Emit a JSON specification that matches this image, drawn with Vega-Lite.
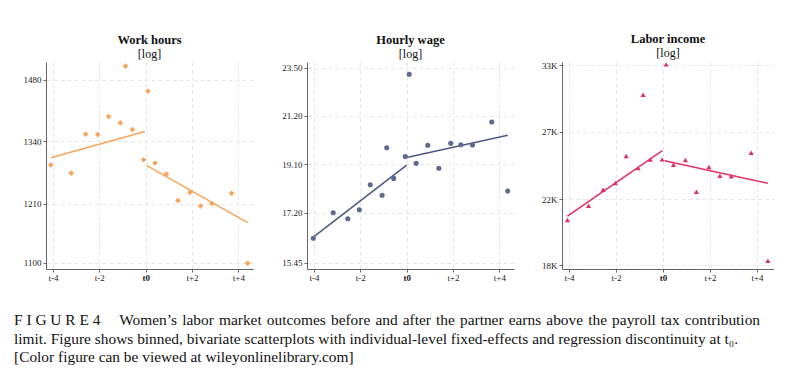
{
  "$schema": "https://vega.github.io/schema/vega-lite/v6.json",
  "background": "white",
  "padding": {"top": 32, "left": 0, "right": 0, "bottom": 0},
  "config": {
    "view": {"stroke": null},
    "font": "Liberation Serif",
    "concat": {"spacing": 10},
    "axis": {
      "domainColor": "#666",
      "tickColor": "#666",
      "tickSize": 3,
      "labelColor": "#222",
      "labelFont": "Liberation Serif",
      "labelFontSize": 9,
      "labelPadding": 2,
      "gridColor": "#e6e6e6",
      "gridDash": [4, 3],
      "title": null
    },
    "axisX": {"labelPadding": 1},
    "title": {
      "font": "Liberation Serif",
      "fontSize": 12.5,
      "fontWeight": "bold",
      "color": "#111",
      "subtitleFont": "Liberation Serif",
      "subtitleFontSize": 12,
      "subtitleColor": "#111",
      "subtitlePadding": 3,
      "offset": 2,
      "anchor": "middle"
    }
  },
  "datasets": {
    "pts": [
      {"panel": "hours", "x": -4.09, "y": 1289},
      {"panel": "hours", "x": -3.21, "y": 1272},
      {"panel": "hours", "x": -2.59, "y": 1355},
      {"panel": "hours", "x": -2.07, "y": 1354},
      {"panel": "hours", "x": -1.6, "y": 1394},
      {"panel": "hours", "x": -1.09, "y": 1380},
      {"panel": "hours", "x": -0.87, "y": 1513},
      {"panel": "hours", "x": -0.57, "y": 1365},
      {"panel": "hours", "x": -0.09, "y": 1300},
      {"panel": "hours", "x": 0.1, "y": 1453},
      {"panel": "hours", "x": 0.4, "y": 1293},
      {"panel": "hours", "x": 0.89, "y": 1270},
      {"panel": "hours", "x": 1.39, "y": 1217},
      {"panel": "hours", "x": 1.91, "y": 1233},
      {"panel": "hours", "x": 2.37, "y": 1206},
      {"panel": "hours", "x": 2.86, "y": 1211},
      {"panel": "hours", "x": 3.71, "y": 1231},
      {"panel": "hours", "x": 4.4, "y": 1099},
      {"panel": "wage", "x": -4.03, "y": 16.28},
      {"panel": "wage", "x": -3.17, "y": 17.2},
      {"panel": "wage", "x": -2.54, "y": 16.98},
      {"panel": "wage", "x": -2.04, "y": 17.31},
      {"panel": "wage", "x": -1.57, "y": 18.27},
      {"panel": "wage", "x": -1.06, "y": 17.86},
      {"panel": "wage", "x": -0.86, "y": 19.78},
      {"panel": "wage", "x": -0.56, "y": 18.52},
      {"panel": "wage", "x": -0.06, "y": 19.41},
      {"panel": "wage", "x": 0.11, "y": 23.17},
      {"panel": "wage", "x": 0.41, "y": 19.13},
      {"panel": "wage", "x": 0.91, "y": 19.89},
      {"panel": "wage", "x": 1.39, "y": 18.93},
      {"panel": "wage", "x": 1.9, "y": 19.97},
      {"panel": "wage", "x": 2.34, "y": 19.91},
      {"panel": "wage", "x": 2.84, "y": 19.9},
      {"panel": "wage", "x": 3.67, "y": 20.91},
      {"panel": "wage", "x": 4.36, "y": 18.02},
      {"panel": "income", "x": -4.07, "y": 20640},
      {"panel": "income", "x": -3.17, "y": 21550},
      {"panel": "income", "x": -2.55, "y": 22630},
      {"panel": "income", "x": -2.03, "y": 23090},
      {"panel": "income", "x": -1.57, "y": 25060},
      {"panel": "income", "x": -1.06, "y": 24160},
      {"panel": "income", "x": -0.85, "y": 30190},
      {"panel": "income", "x": -0.54, "y": 24790},
      {"panel": "income", "x": -0.04, "y": 24810},
      {"panel": "income", "x": 0.13, "y": 33100},
      {"panel": "income", "x": 0.44, "y": 24410},
      {"panel": "income", "x": 0.95, "y": 24760},
      {"panel": "income", "x": 1.42, "y": 22490},
      {"panel": "income", "x": 1.95, "y": 24240},
      {"panel": "income", "x": 2.42, "y": 23610},
      {"panel": "income", "x": 2.9, "y": 23570},
      {"panel": "income", "x": 3.75, "y": 25320},
      {"panel": "income", "x": 4.46, "y": 18240}
    ],
    "fit": [
      {"panel": "hours", "side": "before", "x": -4.09, "y": 1304},
      {"panel": "hours", "side": "before", "x": -0.03, "y": 1361},
      {"panel": "hours", "side": "after", "x": 0.03, "y": 1288},
      {"panel": "hours", "side": "after", "x": 4.4, "y": 1174},
      {"panel": "wage", "side": "before", "x": -4.03, "y": 16.32},
      {"panel": "wage", "side": "before", "x": 0, "y": 19.06},
      {"panel": "wage", "side": "after", "x": 0, "y": 19.37},
      {"panel": "wage", "side": "after", "x": 4.36, "y": 20.32},
      {"panel": "income", "side": "before", "x": -4.07, "y": 20890},
      {"panel": "income", "side": "before", "x": -0.03, "y": 25470},
      {"panel": "income", "side": "after", "x": 0.07, "y": 24710},
      {"panel": "income", "side": "after", "x": 4.46, "y": 23070}
    ]
  },
  "title": {
    "text": [
      "F I G U R E 4\u2003 Women’s\u2004labor\u2004market\u2004outcomes\u2004before\u2004and\u2004after\u2004the\u2004partner\u2004earns\u2004above\u2004the\u2004payroll\u2004tax\u2004contribution",
      "limit. Figure shows binned, bivariate scatterplots with individual-level fixed-effects and regression discontinuity at t₀.",
      "[Color figure can be viewed at wileyonlinelibrary.com]"
    ],
    "orient": "bottom",
    "anchor": "start",
    "frame": "bounds",
    "dx": 14,
    "offset": 31,
    "font": "Liberation Serif",
    "fontSize": 15.4,
    "fontWeight": "normal",
    "lineHeight": 18.5,
    "color": "#111"
  },
  "hconcat": [
    {
      "width": 207,
      "height": 207,
      "title": {"text": "Work hours", "subtitle": "[log]"},
      "layer": [
        {
          "data": {"values": [{"t": 0}]},
          "mark": {"type": "rule", "color": "#888", "strokeDash": [5, 4], "strokeWidth": 1.2},
          "encoding": {"x": {"field": "t", "type": "quantitative"}}
        },
        {
          "data": {"name": "fit"},
          "transform": [{"filter": "datum.panel == 'hours'"}],
          "mark": {"type": "line", "color": "#F7A45C", "strokeWidth": 1.5},
          "encoding": {
            "x": {"field": "x", "type": "quantitative"},
            "y": {"field": "y", "type": "quantitative"},
            "detail": {"field": "side"}
          }
        },
        {
          "data": {"name": "pts"},
          "transform": [{"filter": "datum.panel == 'hours'"}],
          "mark": {"type": "point", "shape": "diamond", "filled": true, "size": 32, "color": "#F7A45C", "opacity": 1},
          "encoding": {
            "x": {"field": "x", "type": "quantitative"},
            "y": {"field": "y", "type": "quantitative"}
          }
        }
      ],
      "encoding": {
        "x": {
          "field": "x", "type": "quantitative",
          "scale": {"domain": [-4.3, 4.63], "nice": false, "zero": false},
          "axis": {
            "values": [-4, -2, 0, 2, 4],
            "labelExpr": "datum.value == 0 ? 't0' : (datum.value > 0 ? 't+' + datum.value : 't' + datum.value)",
            "labelFontWeight": {"condition": {"test": "datum.value == 0", "value": "bold"}, "value": "normal"}
          }
        },
        "y": {
          "field": "y", "type": "quantitative",
          "scale": {"type": "log", "domain": [1089, 1523], "nice": false, "zero": false},
          "axis": {"values": [1100, 1210, 1340, 1480], "format": "d", "minExtent": 46, "maxExtent": 46}
        }
      }
    },
    {
      "width": 207,
      "height": 207,
      "title": {"text": "Hourly wage", "subtitle": "[log]"},
      "layer": [
        {
          "data": {"values": [{"t": 0}]},
          "mark": {"type": "rule", "color": "#888", "strokeDash": [5, 4], "strokeWidth": 1.2},
          "encoding": {"x": {"field": "t", "type": "quantitative"}}
        },
        {
          "data": {"name": "fit"},
          "transform": [{"filter": "datum.panel == 'wage'"}],
          "mark": {"type": "line", "color": "#4B5882", "strokeWidth": 1.5},
          "encoding": {
            "x": {"field": "x", "type": "quantitative"},
            "y": {"field": "y", "type": "quantitative"},
            "detail": {"field": "side"}
          }
        },
        {
          "data": {"name": "pts"},
          "transform": [{"filter": "datum.panel == 'wage'"}],
          "mark": {"type": "point", "shape": "circle", "filled": true, "size": 26, "color": "#5E6A8E", "opacity": 1},
          "encoding": {
            "x": {"field": "x", "type": "quantitative"},
            "y": {"field": "y", "type": "quantitative"}
          }
        }
      ],
      "encoding": {
        "x": {
          "field": "x", "type": "quantitative",
          "scale": {"domain": [-4.3, 4.63], "nice": false, "zero": false},
          "axis": {
            "values": [-4, -2, 0, 2, 4],
            "labelExpr": "datum.value == 0 ? 't0' : (datum.value > 0 ? 't+' + datum.value : 't' + datum.value)",
            "labelFontWeight": {"condition": {"test": "datum.value == 0", "value": "bold"}, "value": "normal"}
          }
        },
        "y": {
          "field": "y", "type": "quantitative",
          "scale": {"type": "log", "domain": [15.24, 23.79], "nice": false, "zero": false},
          "axis": {"values": [15.45, 17.2, 19.1, 21.2, 23.5], "format": ".2f", "minExtent": 44, "maxExtent": 44}
        }
      }
    },
    {
      "width": 212,
      "height": 207,
      "title": {"text": "Labor income", "subtitle": "[log]"},
      "layer": [
        {
          "data": {"values": [{"t": 0}]},
          "mark": {"type": "rule", "color": "#888", "strokeDash": [5, 4], "strokeWidth": 1.2},
          "encoding": {"x": {"field": "t", "type": "quantitative"}}
        },
        {
          "data": {"name": "fit"},
          "transform": [{"filter": "datum.panel == 'income'"}],
          "mark": {"type": "line", "color": "#DE3163", "strokeWidth": 1.5},
          "encoding": {
            "x": {"field": "x", "type": "quantitative"},
            "y": {"field": "y", "type": "quantitative"},
            "detail": {"field": "side"}
          }
        },
        {
          "data": {"name": "pts"},
          "transform": [{"filter": "datum.panel == 'income'"}],
          "mark": {"type": "point", "shape": "triangle-up", "filled": true, "size": 26, "color": "#DE3163", "opacity": 1},
          "encoding": {
            "x": {"field": "x", "type": "quantitative"},
            "y": {"field": "y", "type": "quantitative"}
          }
        }
      ],
      "encoding": {
        "x": {
          "field": "x", "type": "quantitative",
          "scale": {"domain": [-4.3, 4.72], "nice": false, "zero": false},
          "axis": {
            "values": [-4, -2, 0, 2, 4],
            "labelExpr": "datum.value == 0 ? 't0' : (datum.value > 0 ? 't+' + datum.value : 't' + datum.value)",
            "labelFontWeight": {"condition": {"test": "datum.value == 0", "value": "bold"}, "value": "normal"}
          }
        },
        "y": {
          "field": "y", "type": "quantitative",
          "scale": {"type": "log", "domain": [17790, 33340], "nice": false, "zero": false},
          "axis": {"values": [18000, 22000, 27000, 33000], "labelExpr": "(datum.value / 1000) + 'K'", "minExtent": 38, "maxExtent": 38}
        }
      }
    }
  ]
}
